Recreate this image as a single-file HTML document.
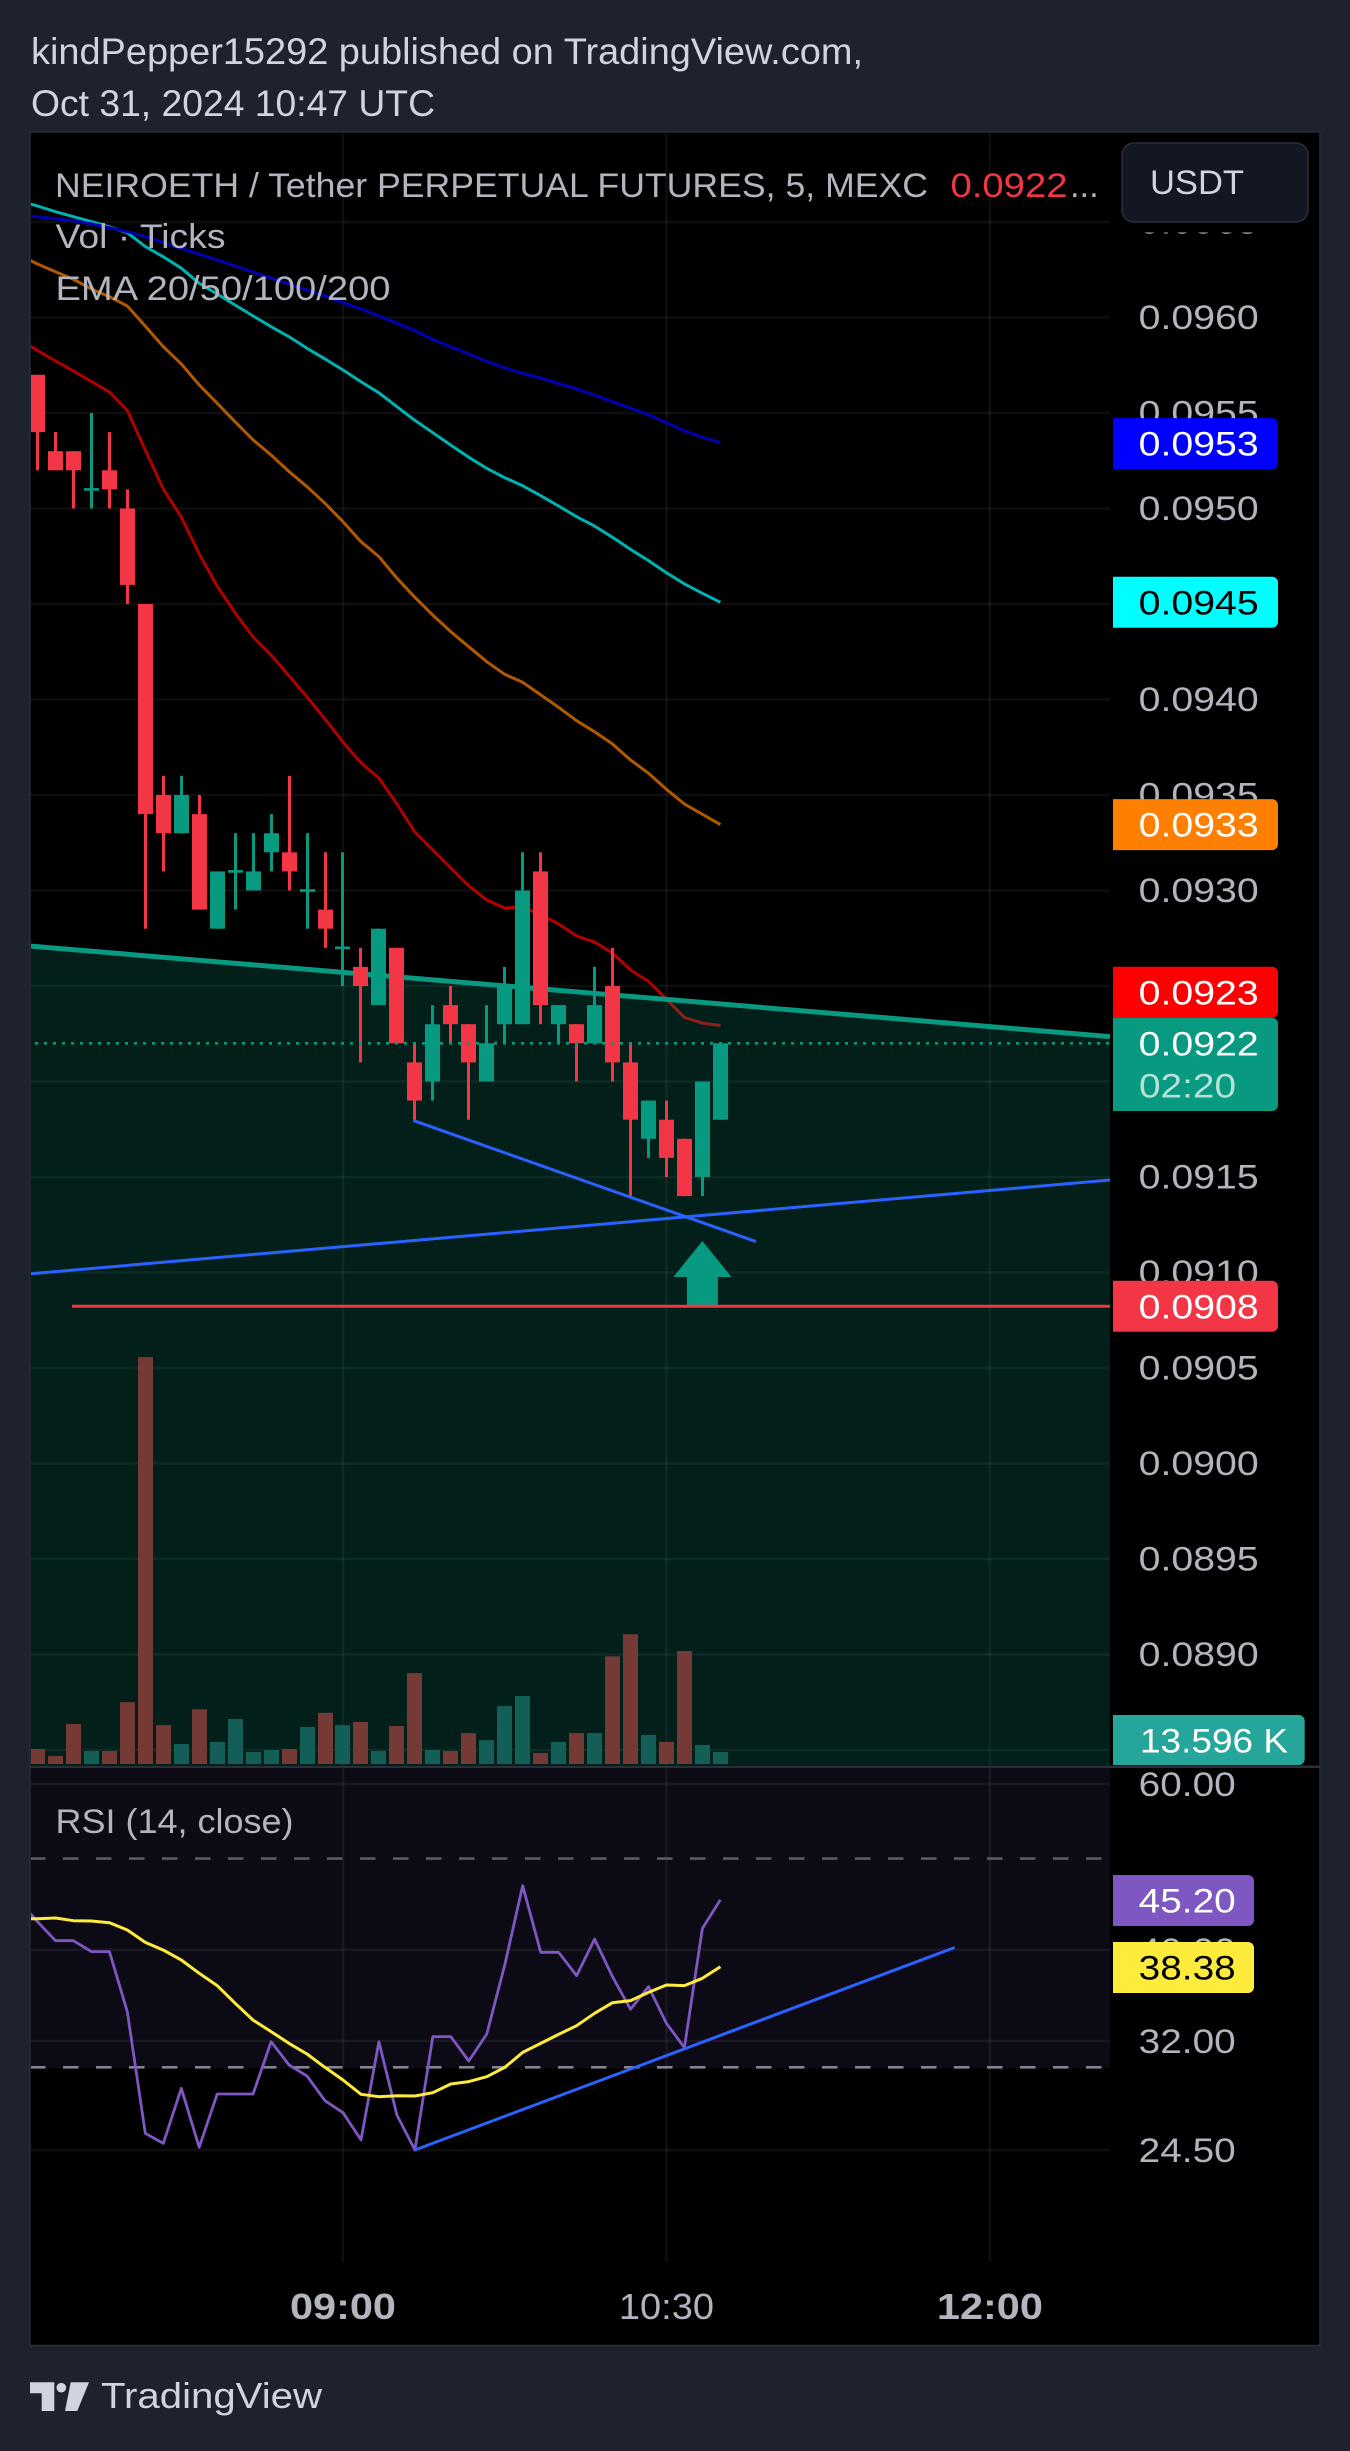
<!DOCTYPE html>
<html lang="en">
<head>
<meta charset="utf-8">
<title>NEIROETH / Tether Perpetual Futures chart</title>
<style>
html,body{margin:0;padding:0;background:#1e222d;}
body{width:1350px;height:2451px;overflow:hidden;}
svg{display:block;font-family:"Liberation Sans",sans-serif;}
</style>
</head>
<body>
<svg id="chart" xmlns="http://www.w3.org/2000/svg" width="1350" height="2451" viewBox="0 0 1350 2451">
  <defs>
    <clipPath id="pricePaneClip"><rect x="31" y="133" width="1079" height="1632"/></clipPath>
    <clipPath id="rsiPaneClip"><rect x="31" y="1768" width="1079" height="494"/></clipPath>
    <clipPath id="gridClip"><rect x="31" y="133" width="1079" height="2129"/></clipPath>
  </defs>
  <rect x="0" y="0" width="1350" height="2451" fill="#1e222d"/>
  <text x="31" y="64" font-size="37" fill="#d1d4dc" textLength="832" lengthAdjust="spacingAndGlyphs">kindPepper15292 published on TradingView.com,</text>
  <text x="31" y="116" font-size="37" fill="#d1d4dc" textLength="404" lengthAdjust="spacingAndGlyphs">Oct 31, 2024 10:47 UTC</text>
  <rect x="30" y="132" width="1290" height="2213.5" fill="#000" stroke="#2a2e39" stroke-width="1.5"/>
  <rect x="31" y="1768" width="1079" height="300" fill="#0c0a14"/>
  <g id="grid" clip-path="url(#gridClip)"></g>
  <g id="emaLines" clip-path="url(#pricePaneClip)"></g>
  <g id="trendFill" clip-path="url(#pricePaneClip)"></g>
  <g id="volumes" clip-path="url(#pricePaneClip)"></g>
  <g id="candles" clip-path="url(#pricePaneClip)"></g>
  <g id="overlays" clip-path="url(#pricePaneClip)"></g>
  <g id="rsi" clip-path="url(#rsiPaneClip)"></g>
  <rect x="30" y="1765.5" width="1290" height="2.5" fill="#2a2e39"/>
  <g id="priceTicks" font-size="34.4" fill="#b2b5be"></g>
  <g id="timeTicks" font-size="36" fill="#b2b5be"></g>
  <g id="tags" font-size="34.4"></g>
  <g>
    <rect x="1112" y="133" width="207" height="99.5" fill="#000"/>
    <rect x="1122" y="143" width="186" height="79" rx="12" fill="#131722" stroke="#2a2e39" stroke-width="1.5"/>
    <text x="1150" y="194" font-size="34.4" fill="#d1d4dc" textLength="94" lengthAdjust="spacingAndGlyphs">USDT</text>
  </g>
  <g font-size="34.4" fill="#b2b5be">
    <text x="55" y="197" textLength="873" lengthAdjust="spacingAndGlyphs">NEIROETH / Tether PERPETUAL FUTURES, 5, MEXC</text>
    <text x="950.5" y="197" fill="#f23645" textLength="117" lengthAdjust="spacingAndGlyphs">0.0922</text>
    <text x="1070" y="197">...</text>
    <text x="55.5" y="248" textLength="170" lengthAdjust="spacingAndGlyphs">Vol · Ticks</text>
    <text x="55.5" y="300" textLength="335" lengthAdjust="spacingAndGlyphs">EMA 20/50/100/200</text>
    <text x="55.5" y="1833" textLength="238" lengthAdjust="spacingAndGlyphs">RSI (14, close)</text>
  </g>
  <g>
    <path d="M30 2382.3H54.3V2411H41.7V2393.3H30Z" fill="#d1d4dc"/>
    <circle cx="61.3" cy="2387.7" r="4.8" fill="#d1d4dc"/>
    <path d="M70.7 2382.3H89L77.3 2411H65Z" fill="#d1d4dc"/>
    <text x="101" y="2408" font-size="36" fill="#d1d4dc" textLength="221" lengthAdjust="spacingAndGlyphs">TradingView</text>
  </g>
</svg>
<script>
// ---------- chart data ----------
const barTimes = ['07:35','07:40','07:45','07:50','07:55','08:00','08:05','08:10','08:15','08:20','08:25','08:30','08:35','08:40','08:45','08:50','08:55','09:00','09:05','09:10','09:15','09:20','09:25','09:30','09:35','09:40','09:45','09:50','09:55','10:00','10:05','10:10','10:15','10:20','10:25','10:30','10:35','10:40','10:45'];
const opens  = [.0957,.0953,.0953,.0951,.0952,.0950,.0945,.0935,.0933,.0934,.0928,.0931,.0930,.0932,.0932,.0930,.0929,.0927,.0926,.0924,.0927,.0921,.0920,.0924,.0923,.0920,.0923,.0923,.0931,.0923,.0923,.0922,.0925,.0921,.0917,.0918,.0917,.0915,.0918];
const highs  = [.0957,.0954,.0953,.0955,.0954,.0951,.0945,.0936,.0936,.0935,.0931,.0933,.0933,.0934,.0936,.0933,.0932,.0932,.0927,.0928,.0927,.0922,.0924,.0925,.0923,.0924,.0926,.0932,.0932,.0924,.0923,.0926,.0927,.0922,.0919,.0919,.0917,.0920,.0922];
const lows   = [.0952,.0952,.0950,.0950,.0950,.0945,.0928,.0931,.0933,.0929,.0928,.0929,.0930,.0931,.0930,.0928,.0927,.0925,.0921,.0924,.0922,.0918,.0919,.0922,.0918,.0920,.0922,.0923,.0923,.0922,.0920,.0922,.0920,.0914,.0916,.0915,.0914,.0914,.0918];
const closes = [.0954,.0952,.0952,.0951,.0951,.0946,.0934,.0933,.0935,.0929,.0931,.0931,.0931,.0933,.0931,.0930,.0928,.0927,.0925,.0928,.0922,.0919,.0923,.0923,.0921,.0922,.0925,.0930,.0924,.0924,.0922,.0924,.0921,.0918,.0919,.0916,.0914,.0920,.0922];
const volumesK = [17,9,45.3,14.7,14.7,70,461,44,22.7,62,25,51,13.6,15.9,17,42,58,44,47.6,14.7,43,103,15.9,14.7,35,27,65.7,77,12.5,25,35,35,122,147,33,25,128,21.5,13.596];

// EMA and RSI series start one bar before the first visible candle
const ema20 = [.095887,.095827,.095772,.095720,.095665,.095610,.095513,.095306,.095102,.094955,.094762,.094594,.094453,.094327,.094233,.094123,.094013,.093898,.093777,.093668,.093589,.093453,.093306,.093212,.093118,.093024,.092950,.092908,.092914,.092872,.092825,.092762,.092730,.092673,.092584,.092524,.092432,.092335,.092306,.092293];
const ema50 = [.096326,.096280,.096240,.096200,.096149,.096109,.096060,.095955,.095847,.095757,.095647,.095551,.095454,.095359,.095280,.095193,.095114,.095027,.094931,.094826,.094748,.094635,.094535,.094442,.094355,.094276,.094198,.094132,.094090,.094024,.093959,.093889,.093831,.093767,.093683,.093614,.093530,.093453,.093399,.093345];
const ema100 = [.096610,.096584,.096554,.096528,.096502,.096475,.096444,.096371,.096318,.096258,.096179,.096123,.096065,.096008,.095952,.095899,.095839,.095783,.095725,.095664,.095606,.095533,.095461,.095397,.095332,.095268,.095210,.095161,.095119,.095067,.095013,.094957,.094908,.094849,.094786,.094727,.094664,.094605,.094556,.094509];
const ema200 = [.096535,.096528,.096517,.096507,.096490,.096470,.096449,.096423,.096392,.096362,.096332,.096301,.096270,.096238,.096207,.096175,.096144,.096113,.096077,.096045,.096008,.095970,.095931,.095885,.095846,.095809,.095770,.095736,.095707,.095683,.095654,.095626,.095594,.095559,.095525,.095490,.095449,.095407,.095373,.095345];
const rsiValues = [45.03,42.84,40.90,40.90,39.82,39.82,34.38,25.53,24.91,28.50,24.67,28.11,28.11,28.11,31.94,30.17,29.37,27.65,26.85,25.12,31.94,26.70,24.51,32.34,32.34,30.47,32.55,38.53,46.79,39.75,39.75,37.55,41.06,37.45,34.58,36.55,33.41,31.48,42.15,45.20];
const rsiMaValues = [43.13,43.16,43.23,42.95,42.92,42.74,41.98,40.73,39.97,39.01,37.76,36.64,35.09,33.68,32.74,31.81,31.00,30.00,29.09,28.09,27.92,27.99,27.97,28.20,28.80,28.97,29.32,30.00,31.12,31.81,32.52,33.22,34.24,35.14,35.32,36.04,36.70,36.64,37.30,38.38];

const priceTickValues = [.0965,.0960,.0955,.0950,.0945,.0940,.0935,.0930,.0925,.0920,.0915,.0910,.0905,.0900,.0895,.0890,.0885];
const priceTickLabels = ['0.0965','0.0960','0.0955','0.0950','0.0945','0.0940','0.0935','0.0930','0.0925','0.0920','0.0915','0.0910','0.0905','0.0900','0.0895','0.0890','0.0885'];
const rsiTickValues = [60,40,32,24.5];
const rsiTickLabels = ['60.00','40.00','32.00','24.50'];
const timeTickBars = [17,35,53];
const timeTickLabels = ['09:00','10:30','12:00'];
const timeTickBold = [true,false,true];
const rsiUpperLevel = 50;
const rsiLowerLevel = 30;

// user drawings, anchored in bar index / value
const supportLineBars = [-0.42, 59.68];
const supportLinePrices = [.092709, .092235];
const channelLowBars = [20.91, 39.98];
const channelLowPrices = [.091796, .091162];
const risingLineBars = [-0.42, 59.68];
const risingLinePrices = [.090993, .091484];
const entryLineBars = [1.92, 59.68];
const entryLinePrices = [.090823, .090823];
const rsiTrendBars = [21, 51.04];
const rsiTrendValues = [24.51, 40.22];
const arrowBar = 37;
const arrowTipPrice = .091165;
const arrowBasePrice = .090823;

// ---------- axis functions ----------
const NS = 'http://www.w3.org/2000/svg';
const xAt = i => 37.5 + 17.97 * i;
const yPrice = p => 1177 - (p - 0.0915) * 191000;
const yVol = k => 1764 - k / 1.133;
const yRsi = v => 1784 + 408.8 * Math.log(60 / v);

function mk(tag, parent, attrs, text) {
  const el = document.createElementNS(NS, tag);
  for (const k in attrs) el.setAttribute(k, attrs[k]);
  if (text !== undefined) el.textContent = text;
  parent.appendChild(el);
  return el;
}
const G = id => document.getElementById(id);
const RED = '#f23645', GREEN = '#089981';
const FIT = 'spacingAndGlyphs';

// ---------- grid ----------
priceTickValues.forEach(v => {
  const el = mk('line', G('grid'), {x1:30, x2:1110, y1:yPrice(v), y2:yPrice(v), stroke:'#f0f3fa', 'stroke-opacity':.06, 'stroke-width':2.5});
  
  
});
rsiTickValues.forEach(v => {
  const el = mk('line', G('grid'), {x1:30, x2:1110, y1:yRsi(v), y2:yRsi(v), stroke:'#f0f3fa', 'stroke-opacity':.06, 'stroke-width':2.5});
  
  
});
timeTickBars.forEach(b => {
  const el = mk('line', G('grid'), {x1:xAt(b), x2:xAt(b), y1:132, y2:2262, stroke:'#f0f3fa', 'stroke-opacity':.06, 'stroke-width':2.5});
  
  
});

// ---------- EMA lines ----------
const linePts = (vals, yFn) => vals.map((v, k) => xAt(k - 1).toFixed(1) + ',' + yFn(v).toFixed(1)).join(' ');
const ema20Line = mk('polyline', G('emaLines'), {points:linePts(ema20, yPrice), fill:'none', stroke:'#b20000', 'stroke-width':3, 'stroke-linejoin':'round'});


const ema50Line = mk('polyline', G('emaLines'), {points:linePts(ema50, yPrice), fill:'none', stroke:'#b25900', 'stroke-width':3, 'stroke-linejoin':'round'});


const ema100Line = mk('polyline', G('emaLines'), {points:linePts(ema100, yPrice), fill:'none', stroke:'#00b2b2', 'stroke-width':3, 'stroke-linejoin':'round'});


const ema200Line = mk('polyline', G('emaLines'), {points:linePts(ema200, yPrice), fill:'none', stroke:'#0000b2', 'stroke-width':3, 'stroke-linejoin':'round'});



// ---------- support zone ----------
const supX1 = xAt(supportLineBars[0]), supX2 = xAt(supportLineBars[1]);
const supY1 = yPrice(supportLinePrices[0]), supY2 = yPrice(supportLinePrices[1]);
const zone = mk('polygon', G('trendFill'), {points:`${supX1},${supY1} ${supX2},${supY2} ${supX2},1765 ${supX1},1765`, fill:'#089981', 'fill-opacity':.2});


const supportLine = mk('line', G('trendFill'), {x1:supX1, y1:supY1, x2:supX2, y2:supY2, stroke:GREEN, 'stroke-width':5});



// ---------- volumes ----------
volumesK.forEach((k, i) => {
  const up = closes[i] >= opens[i];
  const top = yVol(k);
  const el = mk('rect', G('volumes'), {x:Math.round(xAt(i) - 7.5), y:top, width:15, height:1764 - top, fill: up ? '#14625a' : '#7b3b37', 'fill-opacity':.96});
  
  
});

// ---------- candles ----------
barTimes.forEach((t, i) => {
  const up = closes[i] >= opens[i];
  const color = up ? GREEN : RED;
  const cx = xAt(i);
  const wick = mk('rect', G('candles'), {x:Math.round(cx - 1.5), y:yPrice(highs[i]), width:3, height:yPrice(lows[i]) - yPrice(highs[i]), fill:color});
  
  
  const yo = yPrice(opens[i]), yc = yPrice(closes[i]);
  const top = Math.min(yo, yc), h = Math.max(Math.abs(yo - yc), 2.6);
  const body = mk('rect', G('candles'), {x:Math.round(cx - 7.5), y:h < 3 ? top - 1.3 : top, width:15, height:h, fill:color});
  
  
});

// ---------- overlays ----------
const lastClose = closes[closes.length - 1];
const dotted = mk('line', G('overlays'), {x1:35, x2:1110, y1:yPrice(lastClose), y2:yPrice(lastClose), stroke:GREEN, 'stroke-width':2.6, 'stroke-dasharray':'3 6'});


const channelLow = mk('line', G('overlays'), {x1:xAt(channelLowBars[0]), y1:yPrice(channelLowPrices[0]), x2:xAt(channelLowBars[1]), y2:yPrice(channelLowPrices[1]), stroke:'#2962ff', 'stroke-width':3});


const rising = mk('line', G('overlays'), {x1:xAt(risingLineBars[0]), y1:yPrice(risingLinePrices[0]), x2:xAt(risingLineBars[1]), y2:yPrice(risingLinePrices[1]), stroke:'#2962ff', 'stroke-width':3});


const ax = xAt(arrowBar), aTip = yPrice(arrowTipPrice), aBase = yPrice(arrowBasePrice);
const arrow = mk('polygon', G('overlays'), {points:`${ax},${aTip} ${ax+29},${aTip+36} ${ax+15.5},${aTip+36} ${ax+15.5},${aBase} ${ax-15.5},${aBase} ${ax-15.5},${aTip+36} ${ax-29},${aTip+36}`, fill:GREEN});


const entryLine = mk('line', G('overlays'), {x1:xAt(entryLineBars[0]), y1:yPrice(entryLinePrices[0]), x2:xAt(entryLineBars[1]), y2:yPrice(entryLinePrices[1]), stroke:RED, 'stroke-width':3});



// ---------- RSI pane ----------
const upperLevel = mk('line', G('rsi'), {x1:30, x2:1110, y1:yRsi(rsiUpperLevel), y2:yRsi(rsiUpperLevel), stroke:'#5a5a64', 'stroke-width':2.6, 'stroke-dasharray':'15.5 17.5'});


const lowerLevel = mk('line', G('rsi'), {x1:30, x2:1110, y1:yRsi(rsiLowerLevel), y2:yRsi(rsiLowerLevel), stroke:'#84848e', 'stroke-width':2.6, 'stroke-dasharray':'15.5 17.5'});


const rsiLine = mk('polyline', G('rsi'), {points:linePts(rsiValues, yRsi), fill:'none', stroke:'#7e57c2', 'stroke-width':2.8, 'stroke-linejoin':'round'});


const rsiMaLine = mk('polyline', G('rsi'), {points:linePts(rsiMaValues, yRsi), fill:'none', stroke:'#ffeb3b', 'stroke-width':3, 'stroke-linejoin':'round'});


const rsiTrend = mk('line', G('rsi'), {x1:xAt(rsiTrendBars[0]), y1:yRsi(rsiTrendValues[0]), x2:xAt(rsiTrendBars[1]), y2:yRsi(rsiTrendValues[1]), stroke:'#2962ff', 'stroke-width':3});



// ---------- axis labels ----------
priceTickValues.forEach((v, i) => {
  const el = mk('text', G('priceTicks'), {x:1138.7, y:yPrice(v) + 11.7, textLength:120, lengthAdjust:FIT}, priceTickLabels[i]);
  
  
});
rsiTickValues.forEach((v, i) => {
  const el = mk('text', G('priceTicks'), {x:1138.7, y:yRsi(v) + 12, textLength:97, lengthAdjust:FIT}, rsiTickLabels[i]);
  
  
});
timeTickBars.forEach((b, i) => {
  const el = mk('text', G('timeTicks'), {x:xAt(b), y:2319, 'text-anchor':'middle', 'font-weight':timeTickBold[i] ? 'bold' : 'normal', textLength:timeTickBold[i] ? 106 : 95, lengthAdjust:FIT}, timeTickLabels[i]);
  
  
});

// ---------- axis tags ----------
function tag(parent, cy, w, h, fill) {
  const r = 6, x = 1113, y = cy - h / 2;
  return mk('path', parent, {d:`M${x} ${y}H${x + w - r}a${r} ${r} 0 0 1 ${r} ${r}V${y + h - r}a${r} ${r} 0 0 1 -${r} ${r}H${x}Z`, fill:fill});
}
const lastTagTop = yPrice(lastClose) - 25.5;
const ema200Cy = yPrice(ema200[ema200.length - 1]) + 1;
const ema100Cy = yPrice(ema100[ema100.length - 1]);
const ema50Cy = yPrice(ema50[ema50.length - 1]);
const ema20Cy = Math.min(yPrice(ema20[ema20.length - 1]), lastTagTop - 25.5);
const entryCy = yPrice(entryLinePrices[0]);
const fmt4 = v => v.toFixed(4);

const blueTag = tag(G('tags'), ema200Cy, 165, 51, '#0000ff');


const blueTxt = mk('text', G('tags'), {x:1138.7, y:ema200Cy + 12, fill:'#fff', textLength:120, lengthAdjust:FIT}, fmt4(ema200[ema200.length - 1]));



const cyanTag = tag(G('tags'), ema100Cy, 165, 51, '#00ffff');


const cyanTxt = mk('text', G('tags'), {x:1138.7, y:ema100Cy + 12, fill:'#000', textLength:120, lengthAdjust:FIT}, fmt4(ema100[ema100.length - 1]));



const orangeTag = tag(G('tags'), ema50Cy, 165, 51, '#ff7f00');


const orangeTxt = mk('text', G('tags'), {x:1138.7, y:ema50Cy + 12, fill:'#fff', textLength:120, lengthAdjust:FIT}, fmt4(ema50[ema50.length - 1]));



const redTag = tag(G('tags'), ema20Cy, 165, 51, '#ff0000');


const redTxt = mk('text', G('tags'), {x:1138.7, y:ema20Cy + 12, fill:'#fff', textLength:120, lengthAdjust:FIT}, fmt4(ema20[ema20.length - 1]));



const lastTag = tag(G('tags'), lastTagTop + 46.6, 165, 93.2, GREEN);


const lastTxt = mk('text', G('tags'), {x:1138.7, y:yPrice(lastClose) + 12, fill:'#fff', textLength:120, lengthAdjust:FIT}, fmt4(lastClose));


const countdown = mk('text', G('tags'), {x:1139, y:yPrice(lastClose) + 54, fill:'#fff', 'fill-opacity':.7, textLength:97, lengthAdjust:FIT}, '02:20');



const entryTag = tag(G('tags'), entryCy, 165, 51, RED);


const entryTxt = mk('text', G('tags'), {x:1138.7, y:entryCy + 12, fill:'#fff', textLength:120, lengthAdjust:FIT}, fmt4(entryLinePrices[0]));



const volTag = tag(G('tags'), 1740, 191.7, 50, '#26a69a');


const volTxt = mk('text', G('tags'), {x:1140, y:1752.5, fill:'#fff', textLength:148, lengthAdjust:FIT}, volumesK[volumesK.length - 1].toFixed(3) + ' K');



const rsiCy = yRsi(rsiValues[rsiValues.length - 1]) + .7;
const rsiTag = tag(G('tags'), rsiCy, 141, 51, '#7e57c2');


const rsiTxt = mk('text', G('tags'), {x:1138.7, y:rsiCy + 12, fill:'#fff', textLength:97, lengthAdjust:FIT}, rsiValues[rsiValues.length - 1].toFixed(2));



const rsiMaCy = yRsi(rsiMaValues[rsiMaValues.length - 1]) + .8;
const rsiMaTag = tag(G('tags'), rsiMaCy, 141, 51, '#ffeb3b');


const rsiMaTxt = mk('text', G('tags'), {x:1138.7, y:rsiMaCy + 12, fill:'#000', textLength:97, lengthAdjust:FIT}, rsiMaValues[rsiMaValues.length - 1].toFixed(2));


</script>
</body>
</html>
